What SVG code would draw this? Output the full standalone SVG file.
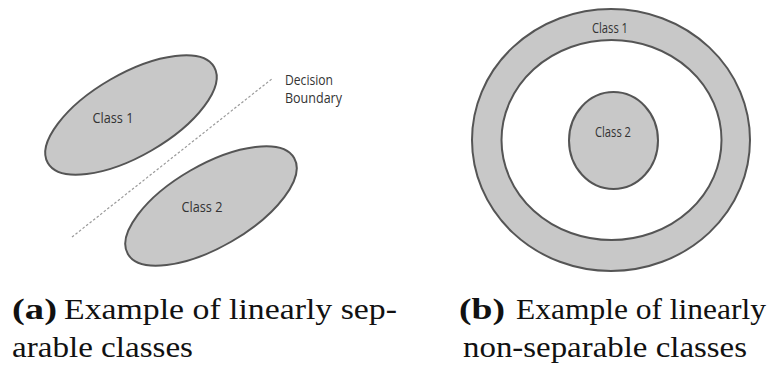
<svg xmlns="http://www.w3.org/2000/svg" width="774" height="365" viewBox="0 0 774 365">
<style>
.blob{fill:#c8c8c8;stroke:#555555;stroke-width:2}
.hole{fill:#ffffff;stroke:#555555;stroke-width:2}
.lbl{font-family:"Open Sans","Liberation Sans",sans-serif;font-size:14px;fill:#333333}
.cap{font-family:"Liberation Serif","DejaVu Serif",serif;font-size:30px;fill:#111111}
.capb{font-family:"Liberation Serif","DejaVu Serif",serif;font-size:30px;font-weight:bold;fill:#111111}
.boundary{stroke:#9a9a9a;stroke-width:1.2;stroke-dasharray:2.5 2;fill:none}
</style>
<rect width="774" height="365" fill="#ffffff"/>
<g id="panel-a">
  <g id="a-class1">
    <ellipse class="blob" cx="131" cy="115" rx="96" ry="41" transform="rotate(-30 131 115)"/>
    <text class="lbl" x="113" y="123" text-anchor="middle" textLength="41" lengthAdjust="spacingAndGlyphs">Class 1</text>
  </g>
  <g id="a-class2">
    <ellipse class="blob" cx="211" cy="206" rx="96" ry="41" transform="rotate(-30 211 206)"/>
    <text class="lbl" x="202" y="212" text-anchor="middle" textLength="41" lengthAdjust="spacingAndGlyphs">Class 2</text>
  </g>
  <g id="decision-boundary">
    <line class="boundary" x1="72" y1="237" x2="273" y2="78"/>
    <text class="lbl" x="285" y="85" textLength="48" lengthAdjust="spacingAndGlyphs">Decision</text>
    <text class="lbl" x="285" y="103" textLength="57" lengthAdjust="spacingAndGlyphs">Boundary</text>
  </g>
</g>
<g id="panel-b">
  <g id="b-class1">
    <ellipse class="blob" cx="611" cy="140" rx="139" ry="131"/>
    <ellipse class="hole" cx="611.5" cy="140" rx="110" ry="100"/>
    <text class="lbl" x="610" y="33" text-anchor="middle" font-size="13" textLength="36" lengthAdjust="spacingAndGlyphs">Class 1</text>
  </g>
  <g id="b-class2">
    <ellipse class="blob" cx="613.5" cy="140.5" rx="44.5" ry="48.5"/>
    <text class="lbl" x="613" y="137" text-anchor="middle" font-size="13" textLength="36" lengthAdjust="spacingAndGlyphs">Class 2</text>
  </g>
</g>
<g id="captions">
  <text class="capb" x="12" y="319" textLength="45" lengthAdjust="spacingAndGlyphs">(a)</text>
  <text class="cap" x="64" y="319" textLength="333" lengthAdjust="spacingAndGlyphs">Example of linearly sep-</text>
  <text class="cap" x="12" y="357" textLength="181" lengthAdjust="spacingAndGlyphs">arable classes</text>
  <text class="capb" x="459" y="319" textLength="46" lengthAdjust="spacingAndGlyphs">(b)</text>
  <text class="cap" x="516" y="319" textLength="250" lengthAdjust="spacingAndGlyphs">Example of linearly</text>
  <text class="cap" x="463" y="357" textLength="284" lengthAdjust="spacingAndGlyphs">non-separable classes</text>
</g>
</svg>
